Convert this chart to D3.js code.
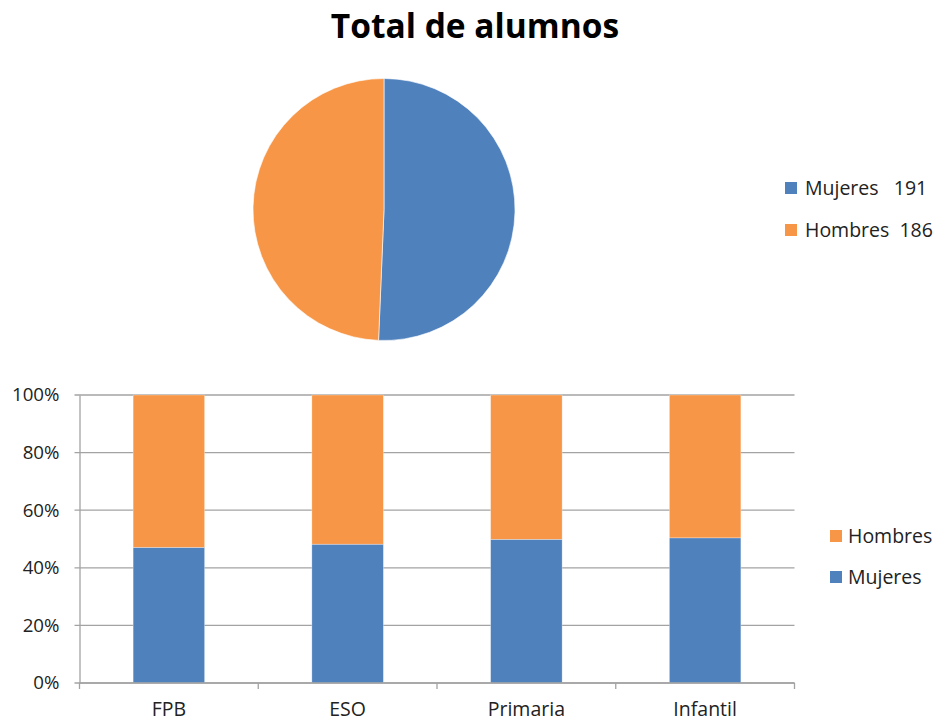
<!DOCTYPE html>
<html>
<head>
<meta charset="utf-8">
<script src="https://cdn.jsdelivr.net/npm/d3@7"></script>
<style>
  body { margin: 0; background: #fff; }
  text { font-family: "Open Sans", sans-serif; }
</style>
</head>
<body>
<script>

// pie data
var pieLabels = ["Mujeres", "Hombres"];
var pieValues = [191, 186];

// stacked bars data (share of each level)
var levels = ["FPB", "ESO", "Primaria", "Infantil"];
var mujeresShare = [0.471, 0.482, 0.499, 0.504];
var hombresShare = [0.529, 0.518, 0.501, 0.496];
var yTicks = [0, 0.2, 0.4, 0.6, 0.8, 1];

var colors = {"Mujeres": "#4f81bd", "Hombres": "#f79646"};

function makeChart(){

    const width = 934;
    const height = 722;

    const svg = d3.create("svg")
        .attr("width", width)
        .attr("height", height)
        .attr("viewBox", [0, 0, width, height]);

    document.body.appendChild(svg.node());

    // Title
    svg.append("text")
        .attr("x", 475)
        .attr("y", 38)
        .attr("text-anchor", "middle")
        .attr("font-weight", "bold")
        .attr("font-size", 33.5)
        .attr("fill", "#000")
        .text("Total de alumnos");

    // Pie
    const pie = d3.pie().sort(null).value(d => d.value);
    const arc = d3.arc().innerRadius(0).outerRadius(131);
    const pieData = pieLabels.map((l, i) => ({label: l, value: pieValues[i]}));

    svg.append("g")
        .attr("transform", "translate(384,209.5)")
        .selectAll("path")
        .data(pie(pieData))
        .join("path")
        .attr("d", arc)
        .attr("fill", d => colors[d.data.label])
        .attr("stroke", "#fff")
        .attr("stroke-width", 0.6);

    // Pie legend
    const pieLegend = svg.append("g")
        .selectAll("g")
        .data(pieData)
        .join("g")
        .attr("transform", (d, i) => `translate(785,${188 + i * 42})`);

    pieLegend.append("rect")
        .attr("x", 0)
        .attr("y", -6)
        .attr("width", 12)
        .attr("height", 12)
        .attr("fill", d => colors[d.label]);

    pieLegend.append("text")
        .attr("x", 20)
        .attr("y", 0)
        .attr("dy", "0.35em")
        .attr("font-size", 19.5)
        .attr("fill", "#222")
        .style("white-space", "pre")
        .text(d => d.label + (d.label == "Mujeres" ? "   " : "  ") + d.value);

    // Stacked bar chart
    const marginLeft = 79.5;
    const marginRight = 794.5;
    const top = 395;
    const bottom = 683;

    const x = d3.scaleBand()
        .domain(levels)
        .range([marginLeft, marginRight])
        .paddingInner(0.6)
        .paddingOuter(0.3);

    const y = d3.scaleLinear()
        .domain([0, 1])
        .range([bottom, top]);

    // gridlines
    svg.append("g")
        .selectAll("line")
        .data(yTicks)
        .join("line")
        .attr("x1", marginLeft - 5)
        .attr("x2", marginRight)
        .attr("y1", d => y(d))
        .attr("y2", d => y(d))
        .attr("stroke", "#a3a3a3")
        .attr("stroke-width", 1.3);

    // y axis
    svg.append("g")
        .attr("transform", `translate(${marginLeft},0)`)
        .call(d3.axisLeft(y).tickValues(yTicks).tickFormat(d3.format(".0%")).tickSize(0).tickPadding(20))
        .call(g => g.select(".domain").attr("stroke", "#a3a3a3").attr("stroke-width", 1.3))
        .call(g => g.selectAll("text").attr("font-size", 18.7).attr("fill", "#222")
            .attr("font-family", "'Open Sans', sans-serif"));

    // stacked series
    const rows = levels.map((l, i) => ({level: l, Mujeres: mujeresShare[i], Hombres: hombresShare[i]}));
    const series = d3.stack().keys(["Mujeres", "Hombres"])(rows);

    svg.append("g")
        .selectAll("g")
        .data(series)
        .join("g")
        .attr("fill", d => colors[d.key])
        .selectAll("rect")
        .data(d => d)
        .join("rect")
        .attr("x", d => x(d.data.level))
        .attr("y", d => y(d[1]))
        .attr("width", x.bandwidth())
        .attr("height", d => y(d[0]) - y(d[1]))
        .attr("stroke", "#fff")
        .attr("stroke-opacity", 0.5)
        .attr("stroke-width", 0.6);

    // x axis
    svg.append("g")
        .attr("transform", `translate(0,${bottom})`)
        .call(d3.axisBottom(x).tickSize(0).tickPadding(19))
        .call(g => g.select(".domain").remove())
        .call(g => g.selectAll("text").attr("font-size", 19.5).attr("fill", "#222")
            .attr("font-family", "'Open Sans', sans-serif"));

    svg.append("line")
        .attr("x1", marginLeft)
        .attr("x2", marginRight)
        .attr("y1", bottom)
        .attr("y2", bottom)
        .attr("stroke", "#a3a3a3")
        .attr("stroke-width", 1.3);

    // category separators on the x axis
    const sepData = levels.map(l => x(l) - x.step() * x.paddingInner() / 2).concat([marginRight]);
    svg.append("g")
        .selectAll("line")
        .data(sepData)
        .join("line")
        .attr("x1", d => d)
        .attr("x2", d => d)
        .attr("y1", bottom)
        .attr("y2", bottom + 6)
        .attr("stroke", "#a3a3a3")
        .attr("stroke-width", 1.3);

    // bar legend
    const barLegend = svg.append("g")
        .selectAll("g")
        .data(["Hombres", "Mujeres"])
        .join("g")
        .attr("transform", (d, i) => `translate(830,${536 + i * 41})`);

    barLegend.append("rect")
        .attr("x", 0)
        .attr("y", -6)
        .attr("width", 12)
        .attr("height", 12)
        .attr("fill", d => colors[d]);

    barLegend.append("text")
        .attr("x", 18)
        .attr("y", 0)
        .attr("dy", "0.35em")
        .attr("font-size", 19.5)
        .attr("fill", "#222")
        .text(d => d);

    return svg.node();
}

makeChart();
</script>
</body>
</html>
